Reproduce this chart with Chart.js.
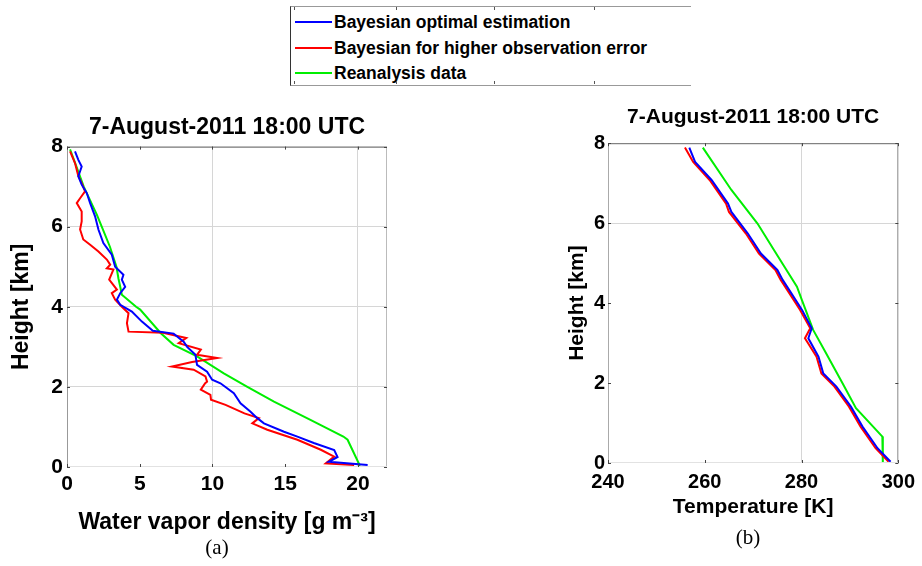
<!DOCTYPE html>
<html>
<head>
<meta charset="utf-8">
<script src="https://cdn.jsdelivr.net/npm/chart.js@4.4.1/dist/chart.umd.min.js"></script>
<style>
  html, body { margin:0; padding:0; background:#fff; }
  body { width:922px; height:566px; position:relative; overflow:hidden; font-family:"Liberation Sans", Arial, sans-serif; }
  canvas { position:absolute; }
  #legend { position:absolute; left:290px; top:6px; width:400px; height:78px;
            border-left:1px solid #333; border-top:1px solid #999; border-bottom:1px solid #999; }
  .row { position:absolute; left:4px; height:20px; font-weight:bold; font-size:17.5px; color:#000; white-space:nowrap; line-height:20px; }
  .swatch { display:inline-block; width:37px; height:2px; vertical-align:middle; margin-right:2px; position:relative; top:-1px; }
  .tk { position:absolute; width:1px; height:3px; background:#555; }
</style>
</head>
<body>
<div id="legend"></div>
<canvas id="cA" width="440" height="466" style="left:0;top:100px;width:440px;height:466px"></canvas>
<canvas id="cB" width="452" height="476" style="left:470px;top:90px;width:452px;height:476px"></canvas>
<script>
// ---------- data ----------
const seriesNames = ['Bayesian optimal estimation', 'Bayesian for higher observation error', 'Reanalysis data'];
const seriesColors = ['#0000ff', '#ff0000', '#00ee00'];

const titleText = '7-August-2011 18:00 UTC';
const heightTicks = [0, 2, 4, 6, 8];
const wvTicks = [0, 5, 10, 15, 20];
const tTicks = [240, 260, 280, 300];

// (a) water vapour density [g m-3] vs height [km]
const wvBlueH = [7.88,7.67,7.5,7.26,7.05,6.84,6.59,6.26,5.93,5.59,5.3,5.0,4.8,4.68,4.5,4.34,4.18,4.05,3.88,3.63,3.4,3.33,3.13,3.0,2.8,2.55,2.38,2.18,2.09,1.84,1.59,1.38,1.22,1.09,0.88,0.76,0.6,0.42,0.25,0.13,0.05];
const wvBlue  = [0.55,0.78,1.01,0.78,1.01,1.36,1.59,1.93,2.16,2.5,3.08,3.31,3.88,3.77,4.0,3.66,3.43,3.66,4.46,5.15,5.9,7.33,8.02,8.26,8.83,8.94,9.63,9.98,10.55,11.47,11.93,12.62,13.08,13.54,14.92,15.84,16.97,18.37,18.6,18.0,20.67];

const wvRedH = [7.88,7.59,7.26,7.09,6.88,6.71,6.59,6.38,6.13,5.93,5.68,5.55,5.38,5.18,5.05,4.96,4.93,4.68,4.43,4.34,4.18,4.0,3.84,3.59,3.38,3.35,3.22,3.09,2.93,2.8,2.72,2.62,2.51,2.43,2.26,2.13,2.09,1.93,1.8,1.68,1.55,1.34,1.22,1.09,0.93,0.68,0.43,0.26,0.09,0.05];
const wvRed  = [0.21,0.55,0.78,1.01,1.24,0.9,0.67,1.01,1.01,0.9,1.12,1.59,2.16,2.74,2.97,2.74,3.19,2.9,3.43,3.08,3.31,3.77,4.23,4.12,4.23,6.6,8.2,7.68,9.2,8.94,10.32,8.6,7.22,8.71,9.52,9.63,9.5,9.2,9.86,9.9,10.9,12.2,13.19,12.74,13.77,15.84,17.45,18.37,17.79,19.74];

const wvGreenH = [7.93,7.5,7.0,6.65,6.3,5.9,5.5,5.0,4.7,4.5,4.3,4.0,3.93,3.34,3.05,2.76,2.34,2.0,1.63,1.2,0.76,0.68,0.07,0.0];
const wvGreen  = [0.21,0.65,1.15,1.6,2.05,2.5,2.95,3.4,3.54,3.66,3.77,4.75,5.03,6.45,7.33,8.94,10.78,12.4,14.23,16.6,19.0,19.29,20.09,20.1];

// (b) temperature [K] vs height [km]
const tBlueH = [7.89,7.53,7.08,6.49,6.28,5.74,5.24,4.83,4.58,4.28,3.83,3.37,3.12,2.66,2.24,1.91,1.41,0.91,0.37,0.03];
const tBlue  = [256.8,258.0,261.4,264.8,265.5,268.9,271.6,275.0,276.1,277.7,280.1,282.1,281.4,283.5,284.5,287.2,290.2,292.6,295.7,298.4];
const tRedH = [7.89,7.53,7.08,6.49,6.28,5.74,5.24,4.83,4.58,4.28,3.83,3.37,3.12,2.66,2.24,1.91,1.41,0.91,0.37,0.03];
const tRed  = [255.9,257.6,261.0,264.4,265.0,268.5,271.2,274.6,275.7,277.3,279.7,281.8,280.7,283.1,284.1,286.8,289.8,292.2,295.3,298.0];
const tGreenH = [7.89,6.83,5.99,5.33,4.41,4.08,3.33,2.74,1.99,1.37,0.66,0.0];
const tGreen  = [259.6,265.5,270.9,274.3,279.05,280.06,282.4,285.1,288.5,291.25,296.7,296.8];

// gridlines that are visible in the reference
const gridWvX = [10, 20], gridWvY = [2, 4, 6];
const gridTX = [280], gridTY = [6];

// ---------- helpers ----------
const FONT = '"Liberation Sans", Arial, sans-serif';
const pts = (xs, hs) => xs.map((v, i) => ({x: v, y: hs[i]}));
function ds(i, xs, hs) {
  return { label: seriesNames[i], data: pts(xs, hs), borderColor: seriesColors[i], backgroundColor: seriesColors[i],
           borderWidth: 2, pointRadius: 0, showLine: true, fill: false, tension: 0 };
}

const framePlugin = {
  id: 'frame',
  afterDraw(chart, args, o) {
    const {ctx, chartArea: a, scales: {x, y}} = chart;
    ctx.save();
    ctx.lineWidth = 1;
    const line = (x1, y1, x2, y2, c) => { ctx.strokeStyle = c; ctx.beginPath(); ctx.moveTo(x1, y1); ctx.lineTo(x2, y2); ctx.stroke(); };
    line(a.left, a.top + 0.5, a.right, a.top + 0.5, o.top);
    line(a.left + 0.5, a.top, a.left + 0.5, a.bottom, o.left);
    line(a.right - 0.5, a.top, a.right - 0.5, a.bottom, o.right);
    line(a.left, a.bottom - 0.5, a.right, a.bottom - 0.5, o.bottom);
    x.ticks.forEach(t => { const p = Math.round(x.getPixelForValue(t.value)) + 0.5;
      line(p, a.bottom, p, a.bottom - 3, '#444'); line(p, a.top, p, a.top + 3, '#444'); });
    y.ticks.forEach(t => { const p = Math.round(y.getPixelForValue(t.value)) + 0.5;
      line(a.left, p, a.left + 3, p, '#444'); line(a.right, p, a.right - 3, p, '#444'); });
    if (o.caption) {
      ctx.fillStyle = '#000';
      ctx.font = '21px "Liberation Serif", "Times New Roman", serif';
      ctx.textAlign = 'center'; ctx.textBaseline = 'middle';
      ctx.fillText(o.caption, o.capX, o.capY);
    }
    ctx.restore();
  }
};

function makeChart(id, cfg) {
  return new Chart(document.getElementById(id), {
    type: 'scatter',
    data: { datasets: cfg.datasets },
    plugins: [framePlugin],
    options: {
      responsive: false, animation: false, devicePixelRatio: 1,
      layout: { padding: { left: 0, top: 0, right: cfg.padRight, bottom: 0 } },
      plugins: {
        legend: { display: false }, tooltip: { enabled: false },
        title: { display: true, text: titleText, fullSize: false, color: '#000',
                 font: { family: FONT, size: cfg.titleSize, weight: 'bold' }, padding: cfg.titlePad },
        frame: cfg.frame
      },
      scales: {
        x: {
          type: 'linear', min: cfg.xMin, max: cfg.xMax,
          afterBuildTicks: s => { s.ticks = cfg.xTicks.map(v => ({ value: v })); },
          afterFit: s => { s.height = cfg.xH; },
          ticks: { color: '#000', font: { family: FONT, size: cfg.xTickSize, weight: 'bold' }, padding: cfg.xTickPad, maxRotation: 0, autoSkip: false },
          grid: { drawTicks: false, lineWidth: 1, color: c => cfg.gridX.includes(c.tick && c.tick.value) ? '#d6d6d6' : 'rgba(0,0,0,0)' },
          border: { display: false },
          title: { display: true, text: cfg.xTitle, color: '#000', font: { family: FONT, size: cfg.xTitleSize, weight: 'bold' }, padding: { top: 0, bottom: cfg.xTitlePad } }
        },
        y: {
          type: 'linear', min: 0, max: 8,
          afterBuildTicks: s => { s.ticks = heightTicks.map(v => ({ value: v })); },
          afterFit: s => { s.width = cfg.yW; },
          ticks: { color: '#000', font: { family: FONT, size: cfg.yTickSize, weight: 'bold' }, padding: cfg.yTickPad },
          grid: { drawTicks: false, lineWidth: 1, color: c => cfg.gridY.includes(c.tick && c.tick.value) ? '#d6d6d6' : 'rgba(0,0,0,0)' },
          border: { display: false },
          title: { display: true, text: 'Height [km]', color: '#000', font: { family: FONT, size: cfg.yTitleSize, weight: 'bold' }, padding: { top: cfg.yTitlePad, bottom: 0 } }
        }
      }
    }
  });
}

makeChart('cA', {
  datasets: [ds(0, wvBlue, wvBlueH), ds(1, wvRed, wvRedH), ds(2, wvGreen, wvGreenH)],
  padRight: 53, titleSize: 23, titlePad: { top: 14, bottom: 5 },
  xMin: 0, xMax: 22, xTicks: wvTicks, xH: 99, xTickSize: 21, xTickPad: 5,
  xTitle: 'Water vapor density [g m\u207B\u00B3]', xTitleSize: 23, xTitlePad: 30,
  yW: 67, yTickSize: 21, yTickPad: 4, yTitleSize: 23, yTitlePad: 8,
  gridX: gridWvX, gridY: gridWvY,
  frame: { top: '#555', left: '#999', right: '#bbb', bottom: '#e2e2e2', caption: '(a)', capX: 217, capY: 448 }
});

makeChart('cB', {
  datasets: [ds(0, tBlue, tBlueH), ds(1, tRed, tRedH), ds(2, tGreen, tGreenH)],
  padRight: 19, titleSize: 21, titlePad: { top: 15, bottom: 13 },
  xMin: 240, xMax: 300, xTicks: tTicks, xH: 103, xTickSize: 20, xTickPad: 7,
  xTitle: 'Temperature [K]', xTitleSize: 21, xTitlePad: 46,
  yW: 138, yTickSize: 20, yTickPad: 3, yTitleSize: 21, yTitlePad: 95,
  gridX: gridTX, gridY: gridTY,
  frame: { top: '#666', left: '#aaa', right: '#888', bottom: '#e2e2e2', caption: '(b)', capX: 278, capY: 448 }
});

// ---------- legend ----------
const leg = document.getElementById('legend');
const rowTops = [5, 31, 56];
seriesNames.forEach((n, i) => {
  const r = document.createElement('div');
  r.className = 'row'; r.style.top = rowTops[i] + 'px';
  r.innerHTML = '<span class="swatch" style="background:' + seriesColors[i] + '"></span>' + n;
  leg.appendChild(r);
});
[3, 105, 203, 303].forEach(x => {
  const a = document.createElement('div'); a.className = 'tk'; a.style.left = x + 'px'; a.style.top = '0px'; leg.appendChild(a);
  const b = document.createElement('div'); b.className = 'tk'; b.style.left = x + 'px'; b.style.top = '74px'; leg.appendChild(b);
});
</script>
</body>
</html>
